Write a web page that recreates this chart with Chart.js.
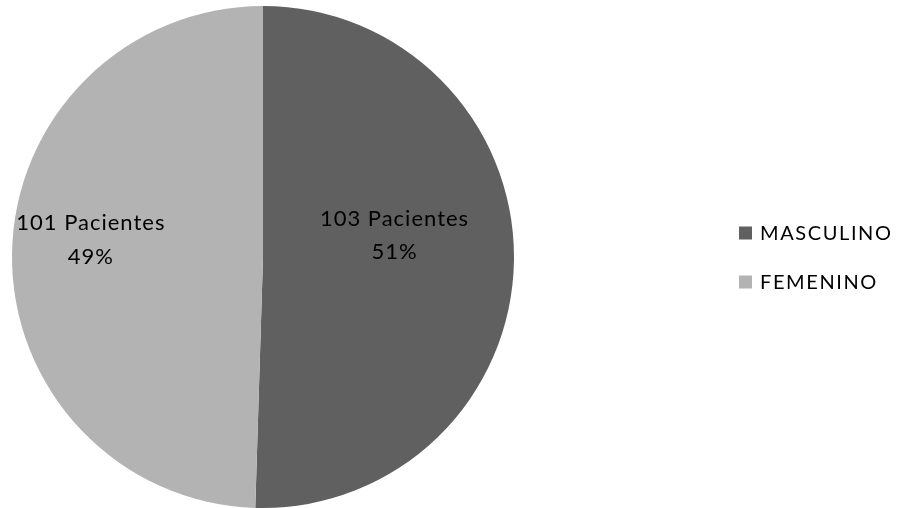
<!DOCTYPE html>
<html>
<head>
<meta charset="utf-8">
<script src="https://cdn.jsdelivr.net/npm/chart.js@4/dist/chart.umd.min.js"></script>
<style>
html,body{margin:0;padding:0;background:#fff;}
#wrap{width:902px;height:508px;position:relative;}
</style>
</head>
<body>
<div id="wrap"><canvas id="c" width="902" height="508"></canvas></div>
<script>
const categories = ["MASCULINO", "FEMENINO"];
const patients = [103, 101];
const percentLabels = ["51%", "49%"];
const colors = ["#606060", "#b3b3b3"];

const FONT = "Lato, 'Open Sans', sans-serif";

const labelPlugin = {
  id: 'sliceLabels',
  afterDatasetsDraw(chart) {
    const ctx = chart.ctx;
    const meta = chart.getDatasetMeta(0);
    const radial = [0.52, 0.69];
    const dy = [-40, -31];
    const gap = [33, 34];
    ctx.save();
    ctx.fillStyle = '#000';
    ctx.font = '22px ' + FONT;
    ctx.letterSpacing = '1px';
    ctx.textAlign = 'center';
    ctx.textBaseline = 'middle';
    meta.data.forEach((arc, i) => {
      const p = arc.getProps(['x','y','startAngle','endAngle','outerRadius'], true);
      const mid = (p.startAngle + p.endAngle) / 2;
      const r = p.outerRadius * radial[i];
      const x = p.x + Math.cos(mid) * r;
      const y = p.y + Math.sin(mid) * r + dy[i];
      ctx.fillText(patients[i] + ' Pacientes', x + 1, y);
      ctx.fillText(percentLabels[i], x + 1, y + gap[i]);
    });
    ctx.restore();
  }
};

const legendPlugin = {
  id: 'customLegend',
  afterDraw(chart) {
    const ctx = chart.ctx;
    ctx.save();
    ctx.font = '20px ' + FONT;
    ctx.letterSpacing = '1.6px';
    ctx.textBaseline = 'middle';
    ctx.textAlign = 'left';
    categories.forEach((c, i) => {
      const y = 233 + i * 49;
      ctx.fillStyle = colors[i];
      ctx.fillRect(739, y - 6.5, 13, 13);
      ctx.fillStyle = '#000';
      ctx.fillText(c, 760, y + 1);
    });
    ctx.restore();
  }
};

new Chart(document.getElementById('c'), {
  type: 'pie',
  data: {
    labels: categories,
    datasets: [{
      data: patients,
      backgroundColor: colors,
      borderWidth: 0
    }]
  },
  options: {
    responsive: false,
    animation: false,
    layout: { padding: { left: 12, right: 388, top: 6, bottom: 0 } },
    plugins: {
      legend: { display: false },
      tooltip: { enabled: false }
    }
  },
  plugins: [labelPlugin, legendPlugin]
});
</script>
</body>
</html>
